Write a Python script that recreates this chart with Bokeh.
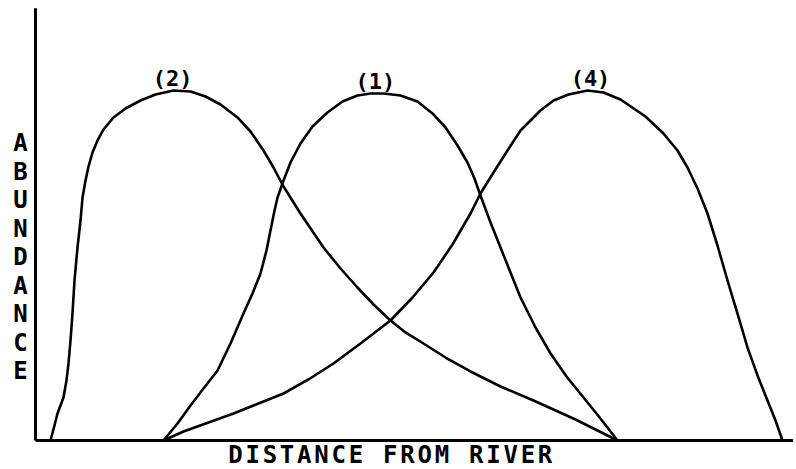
from bokeh.plotting import figure
from bokeh.models import Range1d
from bokeh.core.properties import value
from bokeh.embed import file_html
from bokeh.resources import INLINE

# Abundance (0-100) of three groups against distance from the river (0-100)
dist_2 = [2.00, 2.53, 2.93, 3.33, 3.73, 4.13, 4.40, 4.67, 4.93, 5.20, 5.60, 6.00, 6.27, 6.67,
          7.07, 7.60, 8.27, 9.07, 10.40, 12.00, 14.00, 16.00, 18.40, 20.67, 22.67, 24.67,
          26.93, 28.67, 30.40, 31.73, 33.07, 35.33, 38.40, 40.67, 42.93, 45.07, 47.33, 49.33,
          51.73, 54.67, 58.00, 62.00, 66.40, 72.00, 77.60]
abun_2 = [0.0, 3.49, 6.28, 8.14, 10.00, 13.95, 17.91, 23.26, 29.53, 37.21, 44.88, 51.16, 56.51,
          60.47, 63.72, 66.98, 69.77, 72.33, 75.12, 77.21, 79.07, 80.47, 81.40, 81.16, 80.00,
          78.14, 75.12, 71.86, 67.44, 63.49, 59.07, 52.79, 44.88, 40.00, 35.58, 31.63, 27.91,
          25.12, 22.56, 19.30, 16.05, 12.56, 9.30, 4.88, 0.0]

dist_1 = [17.07, 18.93, 20.67, 22.40, 24.27, 26.00, 27.73, 28.93, 30.00, 30.80, 31.33, 31.87,
          32.27, 33.07, 34.00, 35.33, 36.93, 38.93, 40.93, 42.93, 44.67, 46.40, 48.67, 50.93,
          52.93, 54.67, 56.27, 57.60, 58.53, 59.33, 60.67, 62.00, 63.33, 64.67, 66.67, 68.67,
          70.80, 73.07, 75.33, 77.60]
abun_1 = [0.0, 3.95, 8.14, 12.09, 16.28, 22.56, 29.53, 34.19, 38.84, 44.19, 48.84, 53.49,
          56.51, 60.47, 64.65, 69.07, 73.02, 76.28, 78.84, 80.23, 80.70, 80.70, 80.23, 78.84,
          76.05, 72.79, 68.60, 64.65, 60.93, 56.98, 50.70, 44.88, 39.07, 33.26, 26.28, 20.23,
          14.88, 10.00, 5.12, 0.0]

dist_4 = [17.07, 19.73, 23.07, 26.40, 29.73, 33.07, 36.40, 39.73, 43.33, 47.33, 50.27, 53.07,
          55.60, 58.00, 59.33, 61.07, 62.93, 64.67, 67.33, 69.07, 71.07, 73.60, 75.73, 78.00,
          81.33, 83.73, 85.60, 86.93, 88.27, 89.60, 90.93, 92.27, 93.60, 94.93, 96.27, 97.60,
          98.67, 99.60]
abun_4 = [0.0, 2.09, 4.19, 6.28, 8.60, 10.93, 14.19, 17.91, 22.56, 27.91, 33.26, 39.07,
          45.58, 52.79, 57.44, 62.33, 67.44, 72.09, 76.74, 79.07, 80.47, 81.40, 80.93, 79.30,
          75.35, 71.40, 67.44, 63.49, 58.60, 52.79, 45.35, 37.21, 29.53, 21.63, 15.12, 9.30,
          4.65, 0.0]

curve_labels = ["(2)", "(1)", "(4)"]
label_dist = [18.27, 45.33, 74.0]
y_title = "ABUNDANCE"
x_title = "DISTANCE FROM RIVER"

FONT = value("DejaVu Sans Mono")
PX_X = 7.5   # screen pixels per distance unit
PX_Y = 4.3   # screen pixels per abundance unit

p = figure(width=796, height=469, output_backend="svg", toolbar_location=None,
           x_range=Range1d(-35 / PX_X, 100 + 11 / PX_X),
           y_range=Range1d(-29 / PX_Y, 100 + 10 / PX_Y),
           x_axis_location=None, y_axis_location=None,
           min_border=0, background_fill_color="white", border_fill_color="white")
p.grid.visible = False
p.outline_line_color = None

# hand-drawn axes
p.line([0, 0], [0, 100.5], line_color="black", line_width=3)
p.line([0, 101], [0, 0], line_color="black", line_width=3)

for xs, ys in [(dist_2, abun_2), (dist_1, abun_1), (dist_4, abun_4)]:
    p.line(xs, ys, line_color="black", line_width=2.6, line_join="round", line_cap="round")

peaks = [max(abun_2), max(abun_1), max(abun_4)]
p.text(x=label_dist, y=[pk + 2.8 for pk in peaks], text=curve_labels,
       text_font=FONT, text_font_style="bold", text_font_size="22px",
       text_align="center", text_baseline="middle", text_color="black")

# stacked vertical axis title
letters = list(y_title)
ly = [69.1 - i * (28.5 / PX_Y) for i in range(len(letters))]
p.text(x=[-2.0] * len(letters), y=ly, text=letters,
       text_font=FONT, text_font_style="bold", text_font_size="24px",
       text_align="center", text_baseline="middle", text_color="black")

# horizontal axis title, widely spaced typewriter letters
chars = list(x_title)
step = 17.2 / PX_X
mid = (len(chars) - 1) / 2
cx = [47.3 + (i - mid) * step for i in range(len(chars))]
p.text(x=cx, y=[-14 / PX_Y] * len(chars), text=chars,
       text_font=FONT, text_font_style="bold", text_font_size="24px",
       text_align="center", text_baseline="middle", text_color="black")

open("out.html", "w").write(file_html(p, INLINE))
